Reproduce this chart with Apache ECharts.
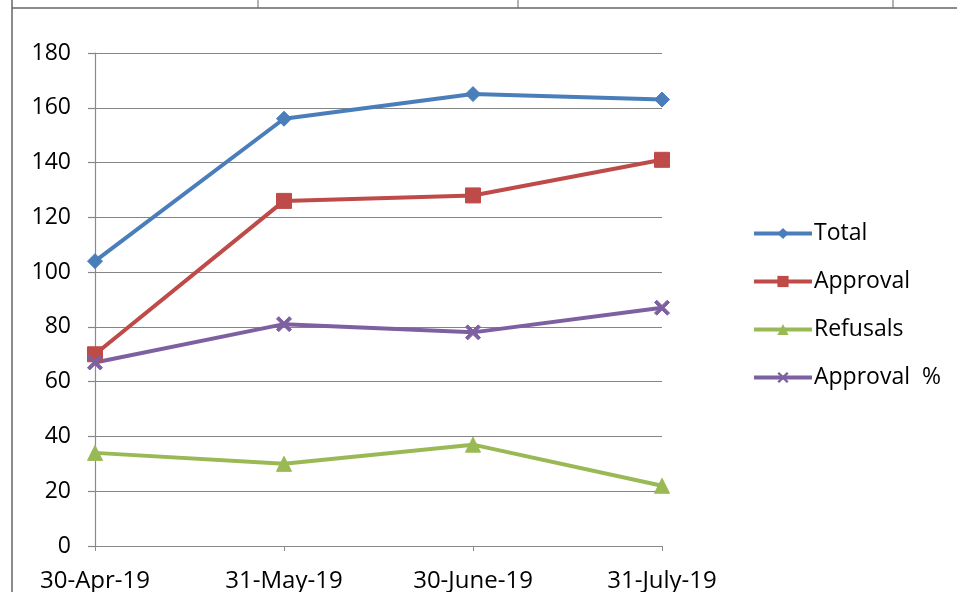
<!DOCTYPE html>
<html><head><meta charset="utf-8">
<script src="https://cdn.jsdelivr.net/npm/echarts@6/dist/echarts.min.js"></script>
<style>html,body{margin:0;padding:0;background:#fff}#c{width:957px;height:592px}</style>
</head><body><div id="c"></div>
<script>
const categories = ['30-Apr-19', '31-May-19', '30-June-19', '31-July-19'];
const total = [104, 156, 165, 163];
const approval = [70, 126, 128, 141];
const refusals = [34, 30, 37, 22];
const approvalPct = [67, 81, 78, 87];
const yTicks = [0, 20, 40, 60, 80, 100, 120, 140, 160, 180];

const crossPath = 'path://M0,1.5L1.5,0L5,3.5L8.5,0L10,1.5L6.5,5L10,8.5L8.5,10L5,6.5L1.5,10L0,8.5L3.5,5Z';
const font = '"Open Sans", "Liberation Sans", sans-serif';

const chart = echarts.init(document.getElementById('c'));
function mk(name, data, color, symbol, size) {
  return {
    name, type: 'line', data, symbol, symbolSize: size,
    lineStyle: { color, width: 4 },
    itemStyle: { color, borderColor: color },
    emphasis: { disabled: true }, z: 3
  };
}
chart.setOption({
  animation: false,
  backgroundColor: '#fff',
  grid: { left: 95, right: 295, top: 53, bottom: 46, outerBoundsMode: 'none', containLabel: false },
  xAxis: {
    type: 'category', data: categories, boundaryGap: false,
    axisLine: { lineStyle: { color: '#8a8a8a', width: 1.2 } },
    axisTick: { show: true, alignWithLabel: true, length: 5, lineStyle: { color: '#8a8a8a' } },
    axisLabel: { color: '#000', fontSize: 24, fontFamily: font, margin: 23 }
  },
  yAxis: {
    type: 'value', min: 0, max: 180, interval: 20,
    axisLine: { show: true, lineStyle: { color: '#8a8a8a', width: 1.2 } },
    axisTick: { show: true, length: 7, lineStyle: { color: '#858585', width: 1.2 } },
    splitLine: { lineStyle: { color: '#858585', width: 1.2 } },
    axisLabel: { color: '#000', fontSize: 23, fontFamily: font, margin: 24,
      formatter: v => yTicks.includes(v) ? String(v) : '' }
  },
  legend: {
    orient: 'vertical', left: 747, top: 217, itemWidth: 58, itemHeight: 14, itemGap: 25,
    lineStyle: { width: 4 },
    textStyle: { color: '#000', fontSize: 23, fontFamily: font, padding: [0, 0, 0, -3] },
    data: ['Total', 'Approval', 'Refusals', 'Approval  %']
  },
  graphic: [
    { type: 'line', shape: { x1: 12, y1: 8, x2: 957, y2: 8 }, style: { stroke: '#666', lineWidth: 1.5 } },
    { type: 'line', shape: { x1: 12, y1: 0, x2: 12, y2: 592 }, style: { stroke: '#666', lineWidth: 1.5 } },
    { type: 'line', shape: { x1: 258, y1: 0, x2: 258, y2: 8 }, style: { stroke: '#666', lineWidth: 1 } },
    { type: 'line', shape: { x1: 518, y1: 0, x2: 518, y2: 8 }, style: { stroke: '#666', lineWidth: 1 } },
    { type: 'line', shape: { x1: 893, y1: 0, x2: 893, y2: 8 }, style: { stroke: '#666', lineWidth: 1 } }
  ],
  series: [
    mk('Total', total, '#4A7EBB', 'diamond', 15),
    mk('Approval', approval, '#BE4B48', 'rect', 15),
    mk('Refusals', refusals, '#98B954', 'triangle', 15),
    mk('Approval  %', approvalPct, '#7D60A0', crossPath, 15)
  ]
});
</script></body></html>
